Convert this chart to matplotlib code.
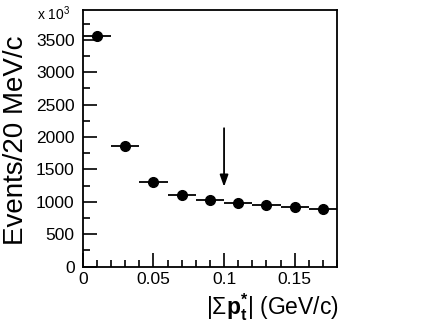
import numpy as np
import matplotlib
matplotlib.use('Agg')
import matplotlib.pyplot as plt
from matplotlib.ticker import MultipleLocator

plt.rcParams['font.family'] = ['Liberation Sans', 'DejaVu Sans']
plt.rcParams['mathtext.fontset'] = 'custom'
plt.rcParams['mathtext.rm'] = 'Liberation Sans'
plt.rcParams['mathtext.it'] = 'Liberation Sans:italic'
plt.rcParams['mathtext.bf'] = 'Liberation Sans:bold'

# data (events per 20 MeV/c, in units of 10^3)
pt_center = [0.01, 0.03, 0.05, 0.07, 0.09, 0.11, 0.13, 0.15, 0.17]
pt_halfwidth = [0.01] * 9
events = [3565, 1863, 1305, 1106, 1025, 978, 952, 926, 895]
cut_value = 0.1
arrow_top, arrow_bottom = 2180, 1190

fig = plt.figure(figsize=(4.36, 3.26), dpi=100)
ax = fig.add_axes([0.190, 0.182, 0.583, 0.787])

ax.errorbar(pt_center, events, xerr=pt_halfwidth, fmt='o', color='black',
            markersize=7, elinewidth=1.3, capsize=0)

ax.annotate('', xy=(cut_value, arrow_bottom), xytext=(cut_value, arrow_top),
            arrowprops=dict(arrowstyle='-|>,head_length=0.7,head_width=0.25',
                            color='black', lw=1.3))

ax.set_xlim(0, 0.18)
ax.set_ylim(0, 3960)
ax.xaxis.set_major_locator(MultipleLocator(0.05))
ax.xaxis.set_minor_locator(MultipleLocator(0.01))
ax.yaxis.set_major_locator(MultipleLocator(500))
ax.yaxis.set_minor_locator(MultipleLocator(250))
ax.set_xticks([0, 0.05, 0.1, 0.15])
ax.set_xticklabels(['0', '0.05', '0.1', '0.15'])
ax.tick_params(which='both', direction='in', labelsize=12.5, width=1.2)
ax.tick_params(which='major', length=10, pad=6)
ax.tick_params(axis='x', which='major', pad=4)
ax.tick_params(which='minor', length=5)
for s in ax.spines.values():
    s.set_linewidth(1.3)

fig.text(0.778, 0.105, r'$|\Sigma\mathbf{p}_{\mathbf{t}}^{\mathbf{*}}|$ (GeV/c)',
         ha='right', va='top', fontsize=16.5)
fig.text(0.036, 0.571, 'Events/20 MeV/c', rotation=90, ha='center', va='center',
         fontsize=20)
fig.text(0.085, 0.958, r'x 10$^{3}$', ha='left', va='center', fontsize=10)

fig.savefig('out.png', dpi=100)
